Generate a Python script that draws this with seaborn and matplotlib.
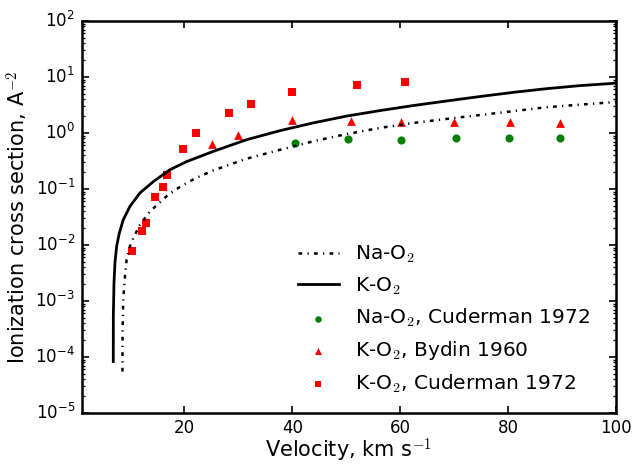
import matplotlib
matplotlib.use("Agg")
import matplotlib.pyplot as plt
import numpy as np
import pandas as pd
import seaborn as sns

# ---- data ----
k_line_v = [6.80, 6.81, 6.93, 7.11, 7.42, 7.91, 8.65, 9.89, 11.74, 14.2, 17.3, 20.4, 22.85,
            25.3, 31.5, 37.7, 43.8, 50.0, 56.2, 62.4, 68.5, 74.7, 80.9, 87.0, 93.2, 100.0]
k_line_s = [8.3e-5, 5.4e-4, 2.1e-3, 4.8e-3, 9.5e-3, 0.0162, 0.0282, 0.049, 0.085, 0.135,
            0.221, 0.309, 0.380, 0.468, 0.759, 1.10, 1.51, 2.00, 2.51, 3.09, 3.72, 4.47,
            5.31, 6.17, 7.00, 7.76]

na_line_v = [8.50, 8.52, 8.65, 8.96, 9.27, 9.89, 10.5, 11.74, 13.6, 17.0, 19.1, 22.0,
             25.3, 31.5, 37.7, 43.8, 50.0, 56.2, 62.4, 68.5, 74.7, 80.9, 87.0, 93.2, 100.0]
na_line_s = [5.5e-5, 2.7e-4, 1.05e-3, 2.75e-3, 5.5e-3, 9.5e-3, 0.0133, 0.0229, 0.0398,
             0.0794, 0.108, 0.155, 0.214, 0.347, 0.501, 0.708, 0.955, 1.23, 1.51, 1.78,
             2.09, 2.45, 2.88, 3.20, 3.58]

na_cud_v = [40.4, 50.3, 60.2, 70.3, 80.1, 89.7]
na_cud_s = [0.65, 0.77, 0.76, 0.80, 0.83, 0.81]

k_byd_v = [25.1, 29.9, 39.9, 50.9, 60.2, 69.9, 80.3, 89.6]
k_byd_s = [0.64, 0.94, 1.71, 1.64, 1.59, 1.57, 1.55, 1.48]

k_cud_v = [10.2, 12.2, 12.8, 14.5, 16.0, 16.7, 19.7, 22.05, 28.2, 32.4, 40.0, 52.05, 60.9]
k_cud_s = [0.0077, 0.0178, 0.025, 0.071, 0.11, 0.18, 0.51, 1.02, 2.24, 3.24, 5.3, 7.1, 8.3]

labels = [r"Na-O$_2$", r"K-O$_2$", r"Na-O$_2$, Cuderman 1972",
          r"K-O$_2$, Bydin 1960", r"K-O$_2$, Cuderman 1972"]

# ---- style ----
plt.style.use("classic")
plt.rcParams.update({
    "font.family": ["DejaVu Sans"],
    "mathtext.fontset": "cm",
    "lines.scale_dashes": True,
    "axes.linewidth": 1.8,
    "xtick.major.size": 5, "xtick.major.width": 1.2, "xtick.major.pad": 4,
    "ytick.major.size": 5, "ytick.major.width": 1.2, "ytick.major.pad": 5,
    "ytick.minor.size": 2.5, "ytick.minor.width": 1.0,
    "xtick.labelsize": 12, "ytick.labelsize": 12,
    "figure.facecolor": "white", "savefig.facecolor": "white",
})

fig = plt.figure(figsize=(6.37, 4.66), dpi=100)
ax = fig.add_axes([82 / 637, 1 - 413 / 466, (616 - 82) / 637, (413 - 21) / 466])

sns.lineplot(x=na_line_v, y=na_line_s, ax=ax, color="black", lw=1.8,
             linestyle=(0, (1.5, 2.1, 0.5, 2.1)), sort=False, estimator=None, label=labels[0])
sns.lineplot(x=k_line_v, y=k_line_s, ax=ax, color="black", lw=2.0,
             sort=False, estimator=None, label=labels[1])
sns.scatterplot(x=na_cud_v, y=na_cud_s, ax=ax, color="#008000", marker="o", s=34,
                linewidth=0, label=labels[2])
sns.scatterplot(x=k_byd_v, y=k_byd_s, ax=ax, color="#ff0000", marker="^", s=40,
                linewidth=0, label=labels[3])
sns.scatterplot(x=k_cud_v, y=k_cud_s, ax=ax, color="#ff0000", marker="s", s=36,
                linewidth=0, label=labels[4])

ax.set_yscale("log")
ax.set_xlim(1, 100)
ax.set_ylim(1e-5, 1e2)
ax.set_xticks([20, 40, 60, 80, 100])
ax.tick_params(which="both", direction="in", top=True, right=True)
ax.tick_params(axis="x", which="minor", bottom=False, top=False)

ax.set_xlabel(r"Velocity, km s$^{-1}$", fontsize=15)
ax.set_ylabel(r"Ionization cross section, A$^{-2}$", fontsize=15)
ax.xaxis.set_label_coords(0.5, -0.06)
ax.yaxis.set_label_coords(-0.095, 0.5)

leg = ax.legend(loc="lower right", bbox_to_anchor=(0.985, 0.0), frameon=False,
                fontsize=14.5, numpoints=1, scatterpoints=1, handlelength=2.0,
                labelspacing=0.5, markerscale=0.8)

fig.savefig("out.png", dpi=100)
